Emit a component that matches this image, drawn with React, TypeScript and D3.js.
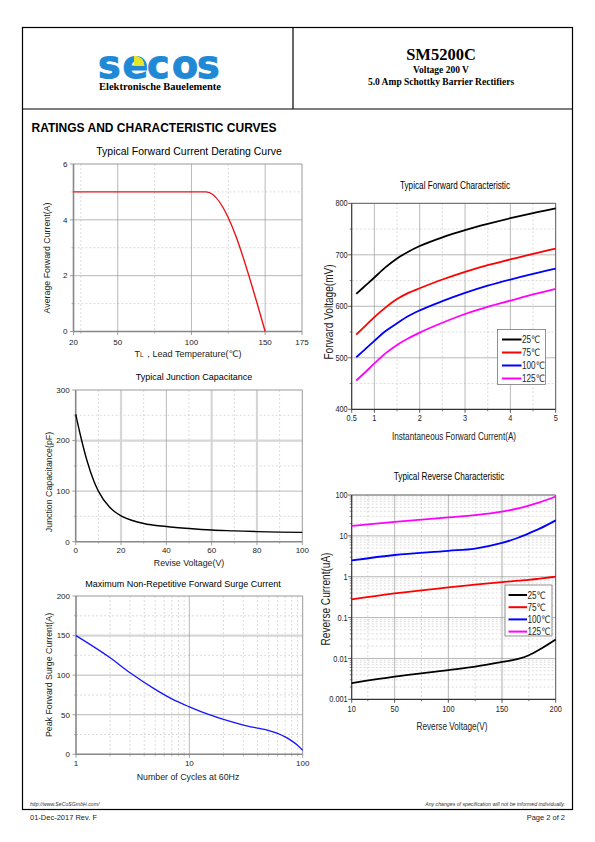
import React from 'react';
import * as d3 from 'd3';

// ---------- Chart 1: forward current derating ----------
const derateTemp = [20, 110, 150];
const derateCurrent = [5, 5, 0];
const derateXTicks = [20, 50, 100, 150, 175];
const derateYTicks = [0, 2, 4, 6];

// ---------- Chart 2: junction capacitance ----------
const capVoltage = [0, 2, 5, 8, 10, 15, 20, 25, 30, 40, 50, 60, 70, 80, 90, 100];
const capPF = [252, 212, 160, 120, 100, 68, 51, 42, 36, 30, 26, 23, 21.5, 20, 19, 18.5];
const capXTicks = [0, 20, 40, 60, 80, 100];
const capYTicks = [0, 100, 200, 300];

// ---------- Chart 3: surge current ----------
const surgeCycles = [1, 2, 3, 5, 7, 10, 15, 20, 30, 40, 50, 60, 70, 80, 90, 100];
const surgeAmps = [150, 122, 103, 82, 70, 60, 50, 44, 37, 33, 30, 26.5, 22, 17, 11.5, 5];
const surgeXTicks = [1, 10, 100];
const surgeYTicks = [0, 50, 100, 150, 200];

// ---------- Chart 4: forward characteristic ----------
const fwdCurrent = [0.6, 0.8, 1, 1.25, 1.5, 1.75, 2, 2.5, 3, 3.5, 4, 4.5, 5];
const fwd25 = [624, 640, 656, 676, 693, 706, 717, 734, 748, 760, 771, 781, 790];
const fwd75 = [545, 562, 579, 598, 614, 626, 635, 652, 667, 680, 691, 702, 712];
const fwd100 = [501, 517, 533, 552, 567, 581, 592, 610, 626, 640, 652, 663, 673];
const fwd125 = [456, 472, 489, 509, 525, 538, 549, 568, 585, 599, 611, 623, 634];
const fwdXTicks = [0.5, 1, 2, 3, 4, 5];
const fwdYTicks = [400, 500, 600, 700, 800];

// ---------- Chart 5: reverse characteristic ----------
const revVoltage = [10, 50, 100, 125, 150, 165, 175, 185, 200];
const rev25 = [0.0025, 0.0036, 0.0052, 0.0063, 0.0082, 0.0097, 0.012, 0.0165, 0.029];
const rev75 = [0.28, 0.39, 0.55, 0.64, 0.74, 0.8, 0.84, 0.9, 1.0];
const rev100 = [2.5, 3.4, 4.3, 4.9, 6.7, 9, 11.5, 15, 24];
const rev125 = [17.4, 21.9, 28.4, 32, 39, 47, 55, 66, 92];
const revXTicks = [10, 50, 100, 150, 200];
const revYTicks = [0.001, 0.01, 0.1, 1, 10, 100];

const tempLabels = ['25℃', '75℃', '100℃', '125℃'];

// ---------- styles ----------
const SERIES_COLORS = ['#000000', '#ff0000', '#0000ff', '#ff00ff'];
const SANS = "'Liberation Sans', Arial, 'DejaVu Sans', sans-serif";
const SERIF = "'Liberation Serif', 'Times New Roman', serif";
const NARROW = 0.82;

type TProps = {
  x: number; y: number; size: number; s?: number; rot?: number;
  anchor?: 'start' | 'middle' | 'end'; fill?: string; weight?: string | number;
  italic?: boolean; family?: string; children: React.ReactNode;
};
function T({ x, y, size, s = 1, rot = 0, anchor = 'middle', fill = '#000', weight, italic, family = SANS, children }: TProps) {
  let tr = `translate(${x},${y})`;
  if (rot) tr += ` rotate(${rot})`;
  if (s !== 1) tr += ` scale(${s},1)`;
  return (
    <text transform={tr} fontSize={size} textAnchor={anchor} fill={fill} fontFamily={family}
      fontWeight={weight} fontStyle={italic ? 'italic' : undefined}>{children}</text>
  );
}

type Series = { x: number[]; y: number[]; color: string; w: number };
type PlotProps = {
  xs: any; ys: any; l: number; r: number; t: number; b: number;
  xTicks: number[]; yTicks: number[]; xFmt?: (v: number) => string; yFmt?: (v: number) => string;
  xMajor: number[]; xMinor: number[]; yMajor: number[]; yMinor: number[];
  xThick?: number[]; yThick?: number[];
  series: Series[]; s: number; tickFont: number;
  frame: string; axis: string; axisW: number;
  yLabGap: number; xLabGap: number;
};

function Plot(p: PlotProps) {
  const { xs, ys, l, r, t, b } = p;
  const fx = p.xFmt || ((v: number) => String(v));
  const fy = p.yFmt || ((v: number) => String(v));
  const minorStroke = '#c4c4c4';
  const majorStroke = '#9a9a9a';
  const thickStroke = '#d6d6d6';
  return (
    <g>
      <rect x={l} y={t} width={r - l} height={b - t} fill="#fff" />
      {p.xMinor.map((v, i) => (
        <line key={'xm' + i} x1={xs(v)} x2={xs(v)} y1={t} y2={b} stroke={minorStroke} strokeWidth={0.6} strokeDasharray="2,2" />
      ))}
      {p.yMinor.map((v, i) => (
        <line key={'ym' + i} x1={l} x2={r} y1={ys(v)} y2={ys(v)} stroke={minorStroke} strokeWidth={0.6} strokeDasharray="2,2" />
      ))}
      {(p.xThick || []).map((v, i) => (
        <line key={'xt' + i} x1={xs(v)} x2={xs(v)} y1={t} y2={b} stroke={thickStroke} strokeWidth={2.2} />
      ))}
      {(p.yThick || []).map((v, i) => (
        <line key={'yt' + i} x1={l} x2={r} y1={ys(v)} y2={ys(v)} stroke={thickStroke} strokeWidth={2.2} />
      ))}
      {p.xMajor.map((v, i) => (
        <line key={'xM' + i} x1={xs(v)} x2={xs(v)} y1={t} y2={b} stroke={majorStroke} strokeWidth={0.7} />
      ))}
      {p.yMajor.map((v, i) => (
        <line key={'yM' + i} x1={l} x2={r} y1={ys(v)} y2={ys(v)} stroke={majorStroke} strokeWidth={0.7} />
      ))}
      {/* frame */}
      <line x1={l} x2={r} y1={t} y2={t} stroke={p.frame} strokeWidth={1} />
      <line x1={r} x2={r} y1={t} y2={b} stroke={p.frame} strokeWidth={1} />
      <line x1={l} x2={l} y1={t} y2={b} stroke={p.axis} strokeWidth={p.axisW} />
      <line x1={l} x2={r} y1={b} y2={b} stroke={p.axis} strokeWidth={p.axisW} />
      {/* ticks */}
      {p.xTicks.map((v, i) => (
        <line key={'xk' + i} x1={xs(v)} x2={xs(v)} y1={b} y2={b + 3.5} stroke={p.axis} strokeWidth={0.8} />
      ))}
      {p.yTicks.map((v, i) => (
        <line key={'yk' + i} x1={l - 3.5} x2={l} y1={ys(v)} y2={ys(v)} stroke={p.axis} strokeWidth={0.8} />
      ))}
      {p.xMinor.filter((v) => v >= xs.domain()[0] && v <= xs.domain()[1]).map((v, i) => (
        <line key={'xmk' + i} x1={xs(v)} x2={xs(v)} y1={b} y2={b + 2} stroke={p.axis} strokeWidth={0.6} />
      ))}
      {p.yMinor.map((v, i) => (
        <line key={'ymk' + i} x1={l - 2} x2={l} y1={ys(v)} y2={ys(v)} stroke={p.axis} strokeWidth={0.6} />
      ))}
      {p.xTicks.map((v, i) => (
        <T key={'xl' + i} x={xs(v)} y={b + p.xLabGap} size={p.tickFont} s={p.s} fill="#222">{fx(v)}</T>
      ))}
      {p.yTicks.map((v, i) => (
        <T key={'yl' + i} x={l - p.yLabGap} y={ys(v) + p.tickFont * 0.35} size={p.tickFont} s={p.s} anchor="end" fill="#222">{fy(v)}</T>
      ))}
      {/* series */}
      {p.series.map((se, i) => {
        const pts: [number, number][] = se.x.map((xv, j) => [xs(xv), ys(se.y[j])]);
        const line = d3.line<[number, number]>().curve(d3.curveMonotoneX)(pts) || '';
        return <path key={'s' + i} d={line} fill="none" stroke={se.color} strokeWidth={se.w} strokeLinejoin="round" />;
      })}
    </g>
  );
}

function Legend({ x, y, w, h, rows, rowY, lineX1, lineX2, textX, size }:
  { x: number; y: number; w: number; h: number; rows: number; rowY: (i: number) => number; lineX1: number; lineX2: number; textX: number; size: number }) {
  return (
    <g>
      <rect x={x} y={y} width={w} height={h} fill="#fff" stroke="#777" strokeWidth={0.8} />
      {tempLabels.slice(0, rows).map((lab, i) => (
        <g key={lab}>
          <line x1={lineX1} x2={lineX2} y1={rowY(i)} y2={rowY(i)} stroke={SERIES_COLORS[i]} strokeWidth={2} />
          <T x={textX} y={rowY(i) + size * 0.36} size={size} s={NARROW} anchor="start" fill="#222">{lab}</T>
        </g>
      ))}
    </g>
  );
}

export default function App() {
  // ---- chart 1 ----
  const c1 = { l: 73.5, r: 302, t: 164, b: 331.5 };
  const x1 = d3.scaleLinear().domain([20, 175]).range([c1.l, c1.r]);
  const y1 = d3.scaleLinear().domain([0, 6]).range([c1.b, c1.t]);

  // ---- chart 2 ----
  const c2 = { l: 75.7, r: 302.3, t: 390, b: 541.7 };
  const x2 = d3.scaleLinear().domain([0, 100]).range([c2.l, c2.r]);
  const y2 = d3.scaleLinear().domain([0, 300]).range([c2.b, c2.t]);

  // ---- chart 3 ----
  const c3 = { l: 76, r: 302.7, t: 596, b: 754.3 };
  const x3 = d3.scaleLog().domain([1, 100]).range([c3.l, c3.r]);
  const y3 = d3.scaleLinear().domain([0, 200]).range([c3.b, c3.t]);
  const x3Minor: number[] = [];
  [1, 10].forEach((d) => { for (let k = 2; k <= 9; k++) x3Minor.push(d * k); });

  // ---- chart 4 ----
  const c4 = { l: 351.7, r: 555.7, t: 203.3, b: 409.3 };
  const x4 = d3.scaleLinear().domain([0.5, 5]).range([c4.l, c4.r]);
  const y4 = d3.scaleLinear().domain([400, 800]).range([c4.b, c4.t]);

  // ---- chart 5 ----
  const c5 = { l: 351.7, r: 555.7, t: 495, b: 699.3 };
  const x5 = d3.scaleLinear().domain([10, 200]).range([c5.l, c5.r]);
  const y5 = d3.scaleLog().domain([0.001, 100]).range([c5.b, c5.t]);
  const y5Minor: number[] = [];
  [0.001, 0.01, 0.1, 1, 10].forEach((d) => { for (let k = 2; k <= 9; k++) y5Minor.push(d * k); });

  return (
    <svg width={595} height={842} viewBox="0 0 595 842"
      style={{ position: 'absolute', left: 0, top: 0, background: '#fff' }}>
      <rect x={0} y={0} width={595} height={842} fill="#fff" />
      {/* page frame */}
      <rect x={22.5} y={27.5} width={550} height={782} fill="none" stroke="#000" strokeWidth={1.2} />
      <line x1={22.5} x2={572.5} y1={109} y2={109} stroke="#000" strokeWidth={1.2} />
      <line x1={293} x2={293} y1={27.5} y2={109} stroke="#000" strokeWidth={1.2} />

      {/* logo */}
      <text x="98 122.5 147 172 197" y={77.5} fontSize={38} fontWeight="bold"
        fontFamily="'DejaVu Sans', sans-serif" fill="#2089d6" stroke="#2089d6" strokeWidth={1}>secos</text>
      <path d="M134,55.5 L134,66 L144.5,66 Q144,56.5 134,55.5 Z" fill="#e5e52a" />
      <T x={160} y={90} size={10.5} weight="bold" family={SERIF}>Elektronische Bauelemente</T>

      {/* title block */}
      <T x={441} y={60} size={16.5} weight="bold" family={SERIF}>SM5200C</T>
      <T x={441} y={72.5} size={9.5} weight="bold" family={SERIF}>Voltage 200 V</T>
      <T x={441} y={85} size={9.5} weight="bold" family={SERIF}>5.0 Amp Schottky Barrier Rectifiers</T>

      <T x={31.5} y={132} size={12} weight="bold" anchor="start">RATINGS AND CHARACTERISTIC CURVES</T>

      {/* ===== Chart 1 ===== */}
      <T x={189} y={155} size={10.5}>Typical Forward Current Derating Curve</T>
      <Plot xs={x1} ys={y1} {...c1} xTicks={derateXTicks} yTicks={derateYTicks}
        xMajor={[50, 100, 150]} xMinor={[25, 75, 125]} yMajor={[2, 4]} yMinor={[1, 3, 5]}
        series={[{ x: derateTemp, y: derateCurrent, color: '#e8141c', w: 1.4 }]}
        s={1} tickFont={8} frame="#999" axis="#888" axisW={1.6} yLabGap={6} xLabGap={13} />
      <T x={50} y={258} size={8.8} rot={-90} fill="#222">Average Forward Current(A)</T>
      <T x={188} y={356.5} size={9} fill="#222">T<tspan fontSize={6.5}>L</tspan>，Lead Temperature(℃)</T>

      {/* ===== Chart 2 ===== */}
      <T x={194} y={380} size={9}>Typical Junction Capacitance</T>
      <Plot xs={x2} ys={y2} {...c2} xTicks={capXTicks} yTicks={capYTicks}
        xMajor={[40]} xMinor={[10, 30, 50, 70, 90]} yMajor={[100]} yMinor={[50, 150, 250]}
        xThick={[20, 60, 80]} yThick={[200]}
        series={[{ x: capVoltage, y: capPF, color: '#000', w: 1.4 }]}
        s={1} tickFont={8} frame="#999" axis="#888" axisW={1.6} yLabGap={6} xLabGap={11.5} />
      <T x={51.5} y={482} size={8.8} rot={-90} fill="#222">Junction Capacitance(pF)</T>
      <T x={189} y={566} size={8.8} fill="#222">Revise Voltage(V)</T>

      {/* ===== Chart 3 ===== */}
      <T x={183} y={587} size={9}>Maximum Non-Repetitive Forward Surge Current</T>
      <Plot xs={x3} ys={y3} {...c3} xTicks={surgeXTicks} yTicks={surgeYTicks}
        xMajor={[10]} xMinor={x3Minor} yMajor={[50, 100]} yMinor={[25, 75, 125, 175]}
        yThick={[150]}
        series={[{ x: surgeCycles, y: surgeAmps, color: '#1414ff', w: 1.3 }]}
        s={1} tickFont={8} frame="#999" axis="#888" axisW={1.6} yLabGap={6} xLabGap={12} />
      <T x={51.5} y={675} size={8.8} rot={-90} fill="#222">Peak Forward Surge Current(A)</T>
      <T x={188} y={780} size={8.8} fill="#222">Number of Cycles at 60Hz</T>

      {/* ===== Chart 4 ===== */}
      <T x={455} y={188.5} size={10} s={NARROW}>Typical Forward Characteristic</T>
      <Plot xs={x4} ys={y4} {...c4} xTicks={fwdXTicks} yTicks={fwdYTicks}
        xMajor={[1, 2, 3, 4]} xMinor={[1.5, 2.5, 3.5, 4.5]} yMajor={[500, 600, 700]} yMinor={[450, 550, 650, 750]}
        series={[
          { x: fwdCurrent, y: fwd25, color: SERIES_COLORS[0], w: 1.8 },
          { x: fwdCurrent, y: fwd75, color: SERIES_COLORS[1], w: 1.8 },
          { x: fwdCurrent, y: fwd100, color: SERIES_COLORS[2], w: 1.8 },
          { x: fwdCurrent, y: fwd125, color: SERIES_COLORS[3], w: 1.8 },
        ]}
        s={NARROW} tickFont={9} frame="#555" axis="#333" axisW={1.2} yLabGap={4} xLabGap={12} />
      <Legend x={497.5} y={329.5} w={48} h={55} rows={4} rowY={(i) => 339.5 + i * 13}
        lineX1={502} lineX2={521.5} textX={522} size={10} />
      <T x={332.5} y={312} size={12.3} s={NARROW} rot={-90} fill="#222">Forward Voltage(mV)</T>
      <T x={454} y={440} size={10} s={NARROW} fill="#222">Instantaneous Forward Current(A)</T>

      {/* ===== Chart 5 ===== */}
      <T x={449} y={479.5} size={10} s={NARROW}>Typical Reverse Characteristic</T>
      <Plot xs={x5} ys={y5} {...c5} xTicks={revXTicks} yTicks={revYTicks}
        xMajor={[50, 100]} xMinor={[25, 75, 125, 175]} yMajor={[0.01, 0.1, 1, 10]} yMinor={y5Minor}
        xThick={[150]}
        series={[
          { x: revVoltage, y: rev25, color: SERIES_COLORS[0], w: 1.8 },
          { x: revVoltage, y: rev75, color: SERIES_COLORS[1], w: 1.8 },
          { x: revVoltage, y: rev100, color: SERIES_COLORS[2], w: 1.8 },
          { x: revVoltage, y: rev125, color: SERIES_COLORS[3], w: 1.8 },
        ]}
        yFmt={(v) => String(v)}
        s={NARROW} tickFont={9} frame="#555" axis="#333" axisW={1.2} yLabGap={4} xLabGap={12.5} />
      <Legend x={505} y={585} w={47} h={51} rows={4} rowY={(i) => 595 + i * 12.2}
        lineX1={508.5} lineX2={527} textX={527.5} size={10} />
      <T x={330} y={599} size={12.3} s={NARROW} rot={-90} fill="#222">Reverse Current(uA)</T>
      <T x={452} y={730} size={10} s={NARROW} fill="#222">Reverse Voltage(V)</T>

      {/* footer */}
      <T x={30} y={805.5} size={5.2} italic anchor="start" fill="#333">http://www.SeCoSGmbH.com/</T>
      <T x={565} y={805.5} size={5.2} italic anchor="end" fill="#333">Any changes of specification will not be informed individually.</T>
      <T x={30} y={820} size={7.5} anchor="start" fill="#222">01-Dec-2017 Rev. F</T>
      <T x={565} y={820} size={7.5} anchor="end" fill="#222">Page  2  of  2</T>
    </svg>
  );
}
